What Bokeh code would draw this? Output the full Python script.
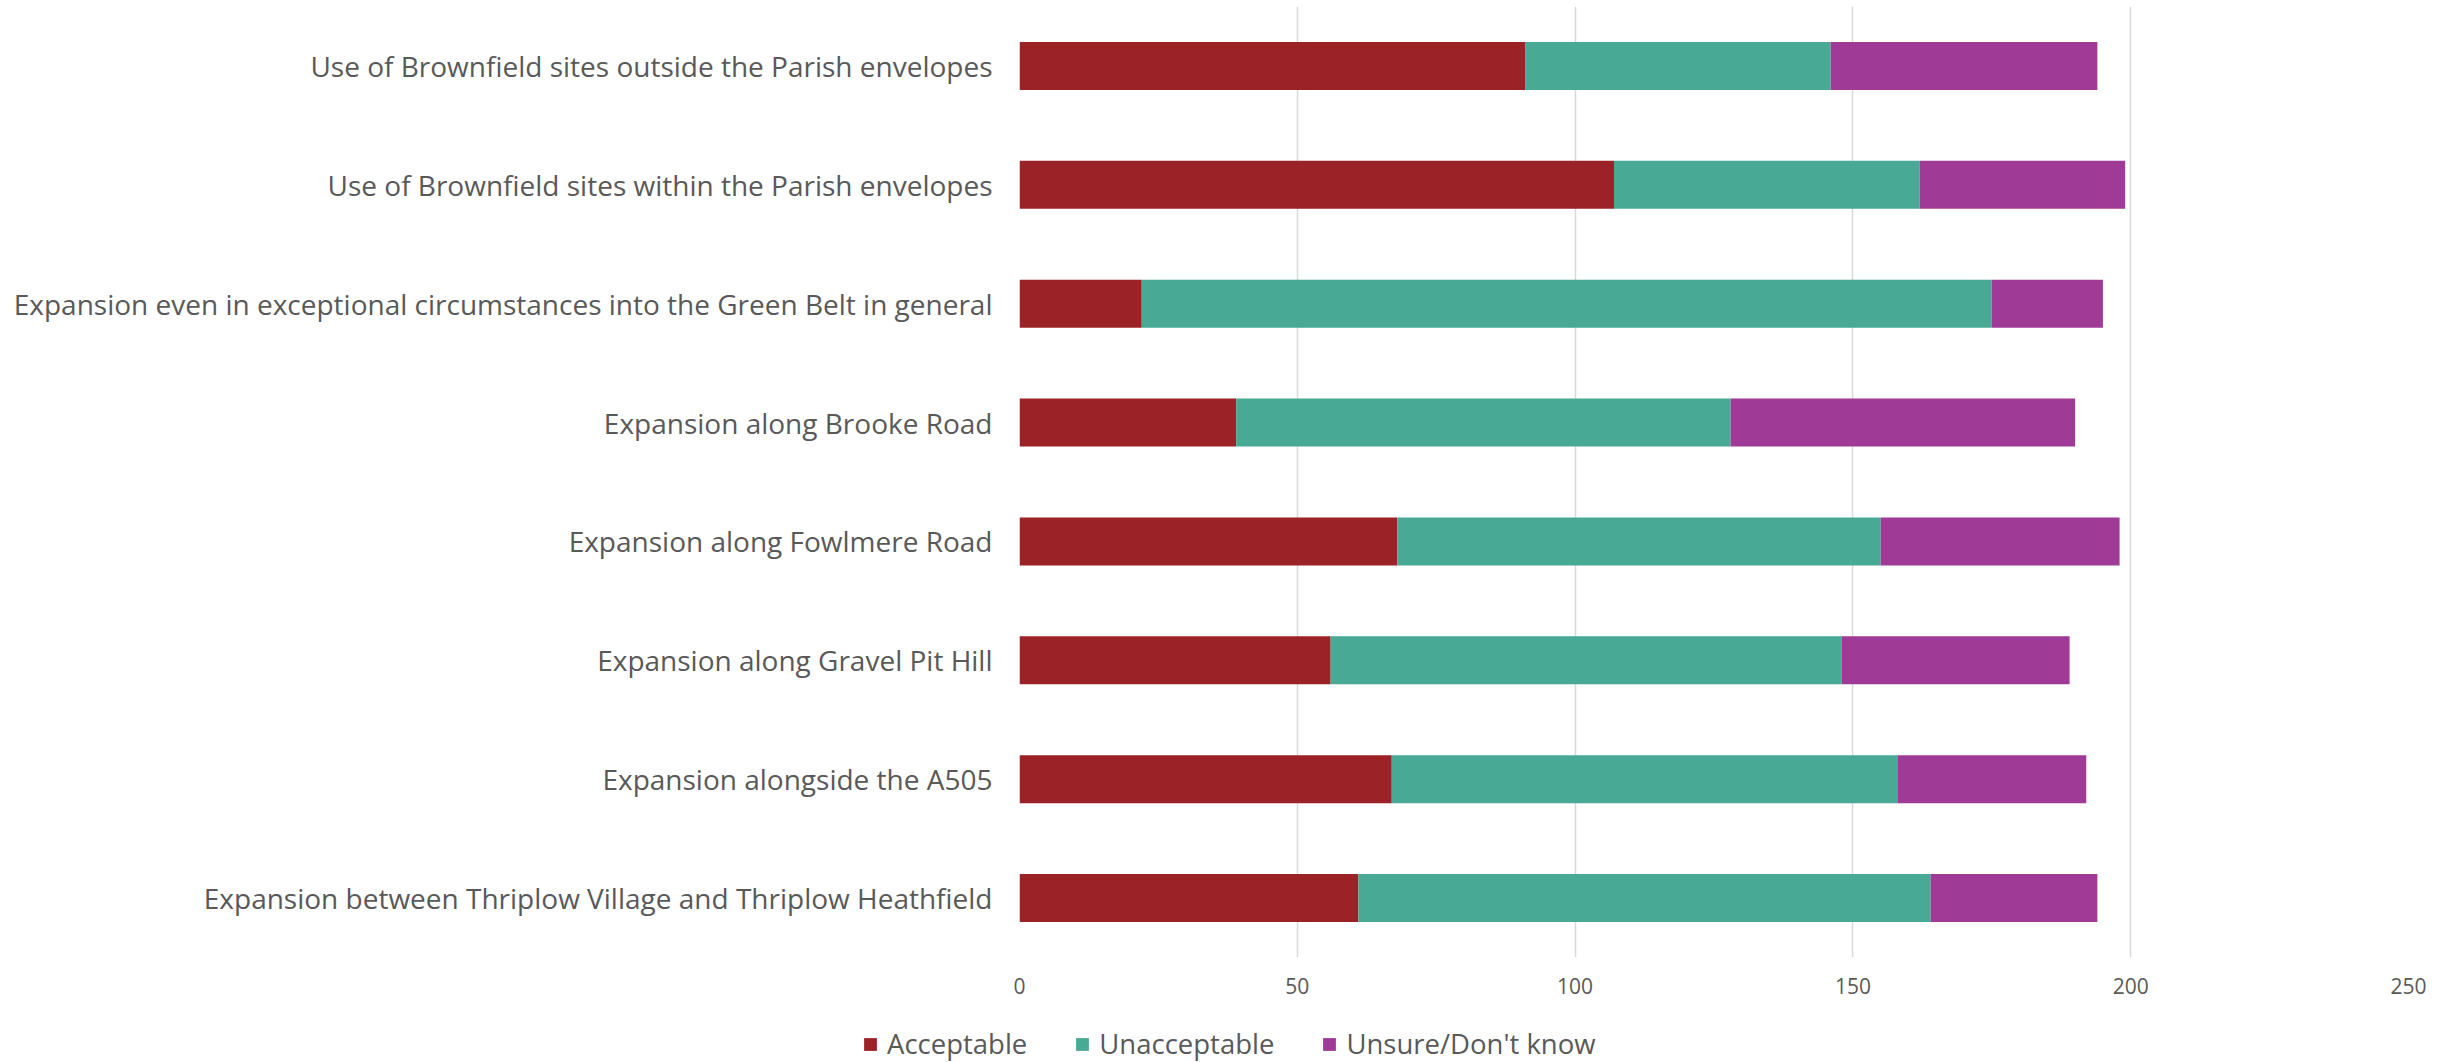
from bokeh.plotting import figure
from bokeh.layouts import column
from bokeh.models import ColumnDataSource, FactorRange, Range1d, FixedTicker, Legend, LegendItem
from bokeh.embed import file_html
from bokeh.resources import INLINE

# Data (top to bottom as displayed)
categories = [
    "Use of Brownfield sites outside the Parish envelopes",
    "Use of Brownfield sites within the Parish envelopes",
    "Expansion even in exceptional circumstances into the Green Belt in general",
    "Expansion along Brooke Road",
    "Expansion along Fowlmere Road",
    "Expansion along Gravel Pit Hill",
    "Expansion alongside the A505",
    "Expansion between Thriplow Village and Thriplow Heathfield",
]
acceptable = [91, 107, 22, 39, 68, 56, 67, 61]
unacceptable = [55, 55, 153, 89, 87, 92, 91, 103]
unsure = [48, 37, 20, 62, 43, 41, 34, 30]
series_names = ["Acceptable", "Unacceptable", "Unsure/Don't know"]
series_keys = ["acceptable", "unacceptable", "unsure"]
colors = ["#9B2226", "#48A995", "#9F3B97"]
x_ticks = [0, 50, 100, 150, 200, 250]

source = ColumnDataSource(dict(
    cat=categories,
    acceptable=acceptable,
    unacceptable=unacceptable,
    unsure=unsure,
))

FONT = "Open Sans"
TEXT_COLOR = "#595959"
W = 2437

p = figure(
    width=W, height=1010,
    y_range=FactorRange(*list(reversed(categories))),
    x_range=Range1d(0, 250),
    output_backend="svg", toolbar_location=None,
    min_border_left=1019, min_border_right=29,
    min_border_top=6, min_border_bottom=53,
)
p.frame_align = False
p.outline_line_color = None
p.background_fill_color = "white"
p.border_fill_color = "white"

renderers = p.hbar_stack(series_keys, y="cat", height=0.404, color=colors,
                         source=source, line_color=None)

# grid
p.ygrid.grid_line_color = None
p.xgrid.grid_line_color = "#D9D9D9"
p.xgrid.grid_line_width = 1.5

# x axis
p.xaxis.ticker = FixedTicker(ticks=x_ticks)
p.xaxis.axis_line_color = None
p.xaxis.major_tick_line_color = None
p.xaxis.minor_tick_line_color = None
p.xaxis.major_tick_out = 0
p.xaxis.major_tick_in = 0
p.xaxis.major_label_standoff = 20
p.xaxis.major_label_text_font = FONT
p.xaxis.major_label_text_font_size = "21px"
p.xaxis.major_label_text_color = TEXT_COLOR

# y axis
p.yaxis.axis_line_color = None
p.yaxis.major_tick_line_color = None
p.yaxis.minor_tick_line_color = None
p.yaxis.major_tick_out = 0
p.yaxis.major_tick_in = 0
p.yaxis.major_label_standoff = 27
p.yaxis.major_label_text_font = FONT
p.yaxis.major_label_text_font_size = "28px"
p.yaxis.major_label_text_color = TEXT_COLOR

# Legend strip below the chart (its own small figure, frame spanning full width)
lg = figure(
    width=W, height=52,
    x_range=Range1d(0, 250), y_range=FactorRange(*list(reversed(categories))),
    x_axis_type=None, y_axis_type=None,
    output_backend="svg", toolbar_location=None,
    min_border_left=0, min_border_right=0, min_border_top=0, min_border_bottom=0,
)
lg.frame_align = False
lg.outline_line_color = None
lg.xgrid.visible = False
lg.ygrid.visible = False
# zero-height bars: only used so the legend can draw its colour swatches
lg_renderers = lg.hbar_stack(series_keys, y="cat", height=0.0, color=colors,
                             source=source, line_color=None)

legend = Legend(
    items=[LegendItem(label=n, renderers=[r]) for n, r in zip(series_names, lg_renderers)],
    orientation="horizontal",
    location=(862, 0),
    border_line_color=None,
    background_fill_alpha=0,
    padding=0, margin=0,
    spacing=47,
    glyph_width=16, glyph_height=16,
    label_standoff=9,
    label_text_font=FONT,
    label_text_font_size="27.5px",
    label_text_color=TEXT_COLOR,
)
lg.add_layout(legend, "center")

layout = column(p, lg, spacing=0)
open("out.html", "w").write(file_html(layout, INLINE))
